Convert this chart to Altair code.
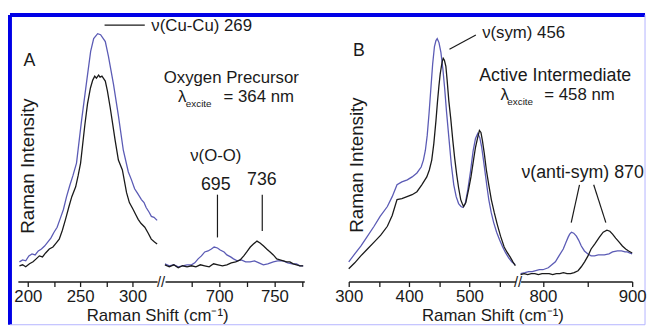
import json
import altair as alt
import pandas as pd

# ---------------- data ----------------
# Panel A, low-frequency segment (cm-1 vs. intensity, arbitrary units)
a1_blue_x = [192, 195, 198, 201, 204, 207, 210, 213, 216, 219, 222, 225, 228, 231, 234, 237, 240, 243,
             246.5, 251.3, 256.6, 260, 262.9, 266.7, 269.5, 274, 277, 281.8, 286.5, 291.2, 296, 299,
             302, 305, 308.5, 311, 313, 316, 318, 320.5, 323.5]
a1_blue_y = [20, 22, 21, 26, 28, 27, 31, 33, 36, 40, 44, 50, 55, 64, 73, 86, 97, 107,
             120, 163, 206, 233, 246, 251, 250, 243, 228, 200, 168, 133, 111, 103,
             94, 89, 83, 80, 75, 70, 66, 65, 62]
a1_black_x = [192, 195, 198, 201.6, 205, 208, 211, 214, 217, 220.5, 224, 227, 230, 233, 236, 239.3, 242,
              245.7, 248, 250.4, 254.4, 257, 259.8, 262, 263.9, 265.5, 267.6, 269, 270.8, 274, 276,
              278.7, 281, 283.4, 286.5, 290.3, 294.3, 297, 300.6, 303, 305.4, 308, 311.7, 315, 317.9,
              321, 323.5]
a1_black_y = [16, 17, 15, 18, 20, 23, 26, 25, 29, 33, 35, 39, 43, 52, 63, 76, 86,
              96, 107, 120, 158, 180, 196, 204, 208, 206, 209, 207, 208, 203, 193,
              176, 160, 143, 123, 113, 90, 80, 73, 68, 63, 59, 55, 49, 43,
              40, 38]
# Panel A, O-O segment
a2_blue_x = [651, 655, 659, 663, 667, 671, 675, 678, 681, 684, 687, 690, 693, 695.5, 698.5, 701, 704.5,
             707, 710.4, 713, 716.3, 720, 724, 728, 732, 736, 740, 744, 749, 753, 758, 762, 766, 770,
             773, 776]
a2_blue_y = [18, 16, 17, 15, 16, 17, 17, 19, 23, 26, 30, 31, 33, 35, 34, 32, 30,
             27, 25, 23, 21, 22, 20, 20, 21, 19, 17, 18, 20, 21, 21, 19, 18, 18,
             16, 16]
a2_black_x = [651, 655, 659, 663, 667, 671, 675, 679, 683, 687, 691, 695, 699, 703, 707, 711, 715, 719,
              722.3, 725, 728.2, 731, 734.2, 737, 740.2, 743, 746.1, 749, 752.1, 755, 758, 761, 764,
              767, 770, 773, 776]
a2_black_y = [17, 15, 17, 14, 16, 15, 16, 15, 17, 16, 15, 18, 17, 16, 17, 19, 20, 22,
              26, 30, 35, 38, 41, 39, 36, 33, 30, 27, 23, 22, 21, 20, 20,
              18, 17, 16, 16]
# Panel B, low-frequency segment
b1_blue_x = [300, 310, 320, 330, 342, 352, 364, 372, 380, 388, 397, 405, 413, 420, 423.7, 427, 430, 433,
             436, 439, 442, 444.5, 446.6, 449.5, 452.7, 456, 459, 462, 466, 470, 474, 478, 482, 486,
             489.2, 493, 497, 501.8, 506, 510, 513.7, 517, 520, 523, 526, 529, 532, 536, 540, 545, 550,
             555, 560, 565, 570, 576]
b1_blue_y = [20, 28, 36, 45, 56, 66, 76, 86, 98, 101, 103, 106, 110, 116, 123, 133, 148, 170,
             195, 220, 238, 244, 246, 242, 232, 215, 195, 172, 145, 118, 98, 86, 79, 76,
             75, 79, 92, 112, 132, 145, 150, 146, 137, 124, 110, 96, 83, 70, 60, 50, 42,
             35, 29, 24, 20, 17]
b1_black_x = [300, 310, 320, 331, 342, 353, 364, 372, 380, 388, 396.6, 405, 413, 421, 429.3, 433.5, 437.5,
              441, 444.5, 447, 449.4, 451.5, 453.5, 455, 456.5, 458.5, 460.9, 463, 465.8, 469, 472.4,
              475.5, 478.9, 482, 485.5, 488, 490.3, 494, 498.5, 502.5, 506.7, 510, 513.3, 516.5, 519,
              521.4, 524.5, 528, 532, 536.2, 541, 546, 551.5, 557.5, 562, 567.3, 572, 576]
b1_black_y = [13, 19, 26, 33, 40, 47, 56, 67, 83, 84, 86, 88, 91, 98, 106, 113, 123,
              140, 163, 182, 198, 210, 218, 223, 226, 224, 218, 204, 183, 165, 143,
              125, 108, 95, 83, 79, 76, 80, 93, 106, 123, 136, 145, 153, 151,
              143, 130, 113, 98, 83, 70, 58, 46, 35, 30, 25, 20, 16]
# Panel B, high-frequency segment
b2_blue_x = [775, 780, 784, 788, 792, 796, 800, 803, 806, 810, 814, 818, 822.8, 826, 828.3, 830, 832,
             834.5, 837.5, 840, 843, 846.5, 850.4, 854, 857.8, 862, 868.8, 874, 878, 883.5, 888, 892,
             894.5, 897, 900]
b2_blue_y = [8, 9, 10, 10, 11, 12, 12, 13, 14, 17, 20, 26, 33, 40, 45, 48, 50,
             49, 46, 42, 36, 31, 28, 26, 26, 27, 27, 28, 30, 31, 31, 30,
             30, 29, 28]
b2_black_x = [775, 779, 783, 787, 791, 795, 799, 803, 807, 811, 815, 819, 823, 827, 831, 835, 839.4, 843,
              846.7, 850.5, 854, 858, 863.3, 867.5, 871.7, 875, 878, 881.5, 885.4, 889, 892.7, 896, 900]
b2_black_y = [7, 8, 7, 8, 8, 7, 8, 8, 8, 7, 8, 8, 9, 8, 8, 9, 11, 15,
              20, 26, 33, 38, 45, 50, 52, 51, 48, 44, 40, 36, 33, 31, 29]

# axis ticks
a1_ticks, a1_major = [200, 225, 250, 275, 300], [200, 250, 300]
a2_ticks, a2_major = [675, 700, 725, 750, 775], [700, 750]
b1_ticks, b1_major = [300, 350, 400, 450, 500, 550], [300, 400, 500]
b2_ticks, b2_major = [800, 850, 900], [800, 900]

x_title = "Raman Shift (cm\u207b\u00b9)"
y_title = "Raman Intensity"

# ---------------- styling ----------------
FONT = "Liberation Sans"
INK = "#1a1a1a"
BLUE_LINE = "#5b5bb5"
FRAME = "#0000e6"
H = 263


def x_enc(dom, ticks, major):
    expr = "indexof(%s, datum.value) >= 0 ? datum.label : ''" % json.dumps(major)
    return alt.X("shift:Q", scale=alt.Scale(domain=dom, nice=False, zero=False),
                 axis=alt.Axis(values=ticks, labelExpr=expr, title=None, grid=False,
                               labelOverlap=False, labelFlush=False))


Y = alt.Y("intensity:Q", scale=alt.Scale(domain=[0, H], nice=False, zero=False), axis=None)
COLOR = alt.Color("sample:N", scale=alt.Scale(domain=["black", "blue"], range=[INK, BLUE_LINE]),
                  legend=None)


def spectra(X, bx, by, kx, ky):
    df = pd.DataFrame({"shift": bx + kx, "intensity": by + ky,
                       "sample": ["blue"] * len(bx) + ["black"] * len(kx)})
    return alt.Chart(df).mark_line(strokeWidth=1.3).encode(x=X, y=Y, color=COLOR, detail="sample:N")


def texts(X, xs, ys, labels, size=17, align="center", angle=None):
    df = pd.DataFrame({"shift": xs, "intensity": ys, "label": labels})
    kw = dict(font=FONT, fontSize=size, align=align, baseline="middle", color=INK)
    if angle is not None:
        kw["angle"] = angle
    return alt.Chart(df).mark_text(**kw).encode(x=X, y=Y, text="label:N")


def segments(X, x1, y1, x2, y2):
    df = pd.DataFrame({"shift": x1, "intensity": y1, "shift2": x2, "intensity2": y2})
    return alt.Chart(df).mark_rule(color=INK, strokeWidth=1.2).encode(
        x=X, y=Y, x2="shift2:Q", y2="intensity2:Q")


# ---------------- panel A ----------------
XA1 = x_enc([190.5, 323.5], a1_ticks, a1_major)
frame_df = pd.DataFrame({"k": [0]})
frame = [
    alt.Chart(frame_df).mark_rule(color=FRAME, strokeWidth=4).encode(
        x=alt.value(-8), x2=alt.value(635), y=alt.value(-7)),
    alt.Chart(frame_df).mark_rule(color=FRAME, strokeWidth=4).encode(
        x=alt.value(-8), y=alt.value(-7), y2=alt.value(306.7)),
    alt.Chart(frame_df).mark_rule(color="#b4b4ff", strokeWidth=1).encode(
        x=alt.value(635), y=alt.value(-7), y2=alt.value(306.7)),
    alt.Chart(frame_df).mark_rule(color="#b4b4ff", strokeWidth=1).encode(
        x=alt.value(-8), x2=alt.value(635), y=alt.value(306.7)),
]
A1 = alt.layer(
    spectra(XA1, a1_blue_x, a1_blue_y, a1_black_x, a1_black_y),
    segments(XA1, [273.3], [259.7], [311.7], [259.7]),
    texts(XA1, [201.6], [223], ["A"], size=18),
    texts(XA1, [318], [259], ["\u03bd(Cu-Cu) 269"], align="left"),
    texts(XA1, [200], [117], [y_title], size=19, angle=270),
    texts(XA1, [324], [-35], [x_title]),
    *frame,
).properties(width=141, height=H)

XA2 = x_enc([651.1, 777], a2_ticks, a2_major)
A2 = alt.layer(
    spectra(XA2, a2_blue_x, a2_blue_y, a2_black_x, a2_black_y),
    segments(XA2, [698.5, 739], [88, 88], [698.5, 739], [44.7, 51.3]),
    texts(XA2, [711], [206], ["Oxygen Precursor"]),
    texts(XA2, [662.8], [187], ["\u03bb"], align="left"),
    texts(XA2, [669.9], [180], ["excite"], size=10, align="left"),
    texts(XA2, [704], [187], ["= 364 nm"], align="left"),
    texts(XA2, [697], [127], ["\u03bd(O-O)"]),
    texts(XA2, [697, 738.7], [98, 103], ["695", "736"], size=18),
).properties(width=141, height=H)

# ---------------- panel B ----------------
XB1 = x_enc([300, 576.5], b1_ticks, b1_major)
B1 = alt.layer(
    spectra(XB1, b1_blue_x, b1_blue_y, b1_black_x, b1_black_y),
    segments(XB1, [466.9], [235.3], [510.6], [249.7]),
    texts(XB1, [316.9], [233], ["B"], size=18),
    texts(XB1, [521], [252], ["\u03bd(sym) 456"], align="left"),
    texts(XB1, [314.2], [118], [y_title], size=19, angle=270),
    texts(XB1, [642], [208.5], ["Active Intermediate"], size=18),
    texts(XB1, [551.6], [189], ["\u03bb"], align="left"),
    texts(XB1, [562.7], [182], ["excite"], size=10, align="left"),
    texts(XB1, [624], [189], ["= 458 nm"], align="left"),
    texts(XB1, [538.9], [-35], [x_title]),
).properties(width=169, height=H)

XB2 = x_enc([775, 900], b2_ticks, b2_major)
B2 = alt.layer(
    spectra(XB2, b2_blue_x, b2_blue_y, b2_black_x, b2_black_y),
    segments(XB2, [841, 856.9], [98, 98], [831.7, 870.5], [59.7, 59.7]),
    texts(XB2, [844.5], [110], ["\u03bd(anti-sym) 870"], size=18),
).properties(width=113, height=H)

# ---------------- axis breaks / spacers ----------------
brk = pd.DataFrame({"t": ["//"]})
gapA = alt.Chart(brk).mark_text(font=FONT, fontSize=15, color=INK, baseline="middle").encode(
    text="t:N", x=alt.value(4), y=alt.value(H)).properties(width=8, height=H)
gapB = alt.Chart(brk).mark_text(font=FONT, fontSize=15, color=INK, baseline="middle").encode(
    text="t:N", x=alt.value(2.5), y=alt.value(H)).properties(width=5, height=H)
gapM = alt.Chart(pd.DataFrame({"t": [" "]})).mark_text().encode(
    text="t:N", x=alt.value(0), y=alt.value(0)).properties(width=45, height=H)

chart = alt.hconcat(A1, gapA, A2, gapM, B1, gapB, B2, spacing=0, bounds="flush").properties(
    padding={"left": 0, "top": 3, "right": 0, "bottom": 0},
    background="white",
).configure_view(strokeWidth=0).configure_axis(
    domainColor=INK, domainWidth=1.5, tickColor=INK, tickWidth=1.3, tickSize=5,
    labelFont=FONT, labelFontSize=17, labelColor=INK, labelPadding=2,
)

chart.save("out.html", embed_options={"renderer": "svg", "actions": False})
